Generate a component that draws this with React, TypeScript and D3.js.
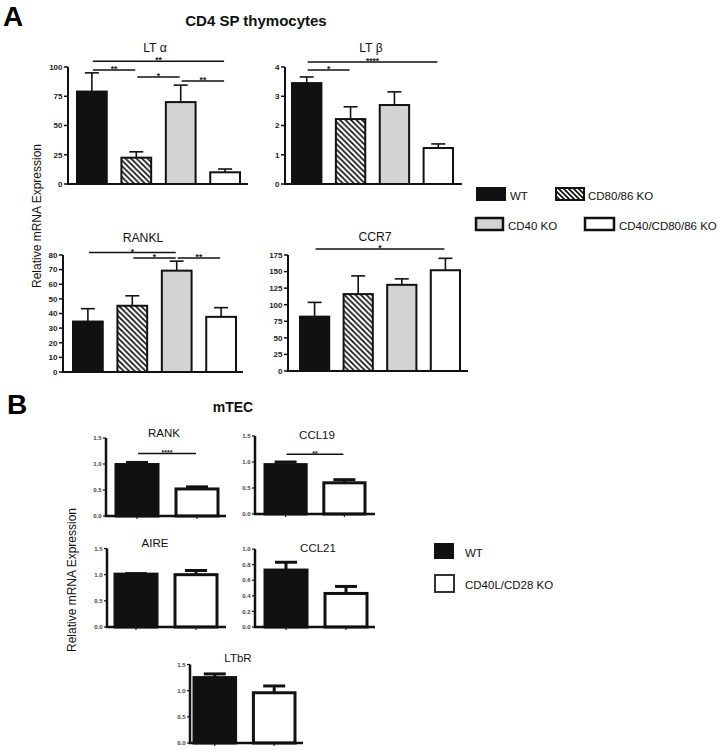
import React from "react";
import * as d3 from "d3";

// ---------- data ----------
const groupsA = ["WT", "CD80/86 KO", "CD40 KO", "CD40/CD80/86 KO"];
const groupsB = ["WT", "CD40L/CD28 KO"];

const ltaMean = [79, 22.5, 70, 10];
const ltaSem = [16, 5, 14.5, 2.8];
const ltbMean = [3.45, 2.22, 2.7, 1.23];
const ltbSem = [0.21, 0.42, 0.45, 0.14];
const ranklMean = [34.5, 45.3, 69.3, 37.7];
const ranklSem = [8.8, 6.8, 6.5, 6.3];
const ccr7Mean = [82, 116, 130, 152];
const ccr7Sem = [21.5, 27.5, 9, 18];

const rankMean = [0.99, 0.52];
const rankSem = [0.04, 0.04];
const ccl19Mean = [0.95, 0.6];
const ccl19Sem = [0.05, 0.06];
const aireMean = [1.01, 1.0];
const aireSem = [0.01, 0.08];
const ccl21Mean = [0.73, 0.43];
const ccl21Sem = [0.1, 0.09];
const ltbrMean = [1.25, 0.96];
const ltbrSem = [0.07, 0.13];

const ticksLta = [0, 25, 50, 75, 100];
const ticksLtb = [0, 1, 2, 3, 4];
const ticksRankl = [0, 10, 20, 30, 40, 50, 60, 70, 80];
const ticksCcr7 = [0, 25, 50, 75, 100, 125, 150, 175];
const ticksB15 = [0, 0.5, 1.0, 1.5];
const ticksB10 = [0, 0.2, 0.4, 0.6, 0.8, 1.0];

type Sig = { a: number; b: number; v: number; label: string };
const ltaSig: Sig[] = [
  { a: 0, b: 3, v: 105, label: "**" },
  { a: 0, b: 1, v: 97.4, label: "**" },
  { a: 1, b: 2, v: 91.5, label: "*" },
  { a: 2, b: 3, v: 88, label: "**" },
];
const ltbSig: Sig[] = [
  { a: 0, b: 3, v: 4.17, label: "****" },
  { a: 0, b: 1, v: 3.9, label: "*" },
];
const ranklSig: Sig[] = [
  { a: 0, b: 2, v: 81.7, label: "*" },
  { a: 1, b: 2, v: 78, label: "*" },
  { a: 2, b: 3, v: 78, label: "**" },
];
const ccr7Sig: Sig[] = [{ a: 0, b: 3, v: 184, label: "*" }];
const rankSig: Sig[] = [{ a: 0, b: 1, v: 1.2, label: "****" }];
const ccl19Sig: Sig[] = [{ a: 0, b: 1, v: 1.15, label: "**" }];

const FONT = "'Liberation Sans', Arial, Helvetica, sans-serif";
const fillsA = ["#111111", "url(#hatch)", "#d3d3d3", "#ffffff"];
const fillsB = ["#111111", "#ffffff"];

type PanelProps = {
  title: string;
  titleX: number;
  titleY: number;
  groups: string[];
  means: number[];
  sems: number[];
  ticks: number[];
  fmt: (v: number) => string;
  yMax: number;
  axisX: number;
  axisEnd: number;
  y0: number;
  yTop: number;
  barL: number;
  barR: number;
  fills: string[];
  heavy: boolean;
  sig?: Sig[];
};

function Panel(p: PanelProps) {
  const y = d3.scaleLinear().domain([0, p.yMax]).range([p.y0, p.yTop]);
  const n = p.groups.length;
  const x = d3
    .scaleBand<string>()
    .domain(p.groups)
    .range([p.barL, p.barR])
    .paddingInner(n === 4 ? 0.33 : 0.3)
    .paddingOuter(0);
  const bw = x.bandwidth();
  const axisW = p.heavy ? 2.5 : 2;
  const barW = p.heavy ? 3 : 2;
  const errW = p.heavy ? 3 : 1.6;
  const capW = p.heavy ? 22 : 14;
  const tickLen = p.heavy ? 3 : 4;
  const tickFont = p.heavy ? 6 : 8;
  const starFont = p.heavy ? 7 : 8.5;
  return (
    <g fontFamily={FONT}>
      <text x={p.titleX} y={p.titleY} textAnchor="middle" fontSize={p.heavy ? 11.5 : 12.2} fill="#111">
        {p.title}
      </text>
      {p.groups.map((g, i) => {
        const cx = (x(g) as number) + bw / 2;
        const top = y(p.means[i]);
        const et = y(p.means[i] + p.sems[i]);
        return (
          <g key={g}>
            <line x1={cx} x2={cx} y1={top} y2={et} stroke="#111" strokeWidth={errW} />
            <line x1={cx - capW / 2} x2={cx + capW / 2} y1={et} y2={et} stroke="#111" strokeWidth={errW} />
            <rect
              x={x(g) as number}
              y={top}
              width={bw}
              height={p.y0 - top}
              fill={p.fills[i]}
              stroke="#111"
              strokeWidth={barW}
            />
            {p.heavy && (
              <line x1={cx} x2={cx} y1={p.y0} y2={p.y0 + 3} stroke="#222" strokeWidth={1.2} />
            )}
          </g>
        );
      })}
      <line x1={p.axisX} x2={p.axisX} y1={p.y0} y2={p.yTop} stroke="#111" strokeWidth={axisW} />
      <line x1={p.axisX - axisW / 2} x2={p.axisEnd} y1={p.y0} y2={p.y0} stroke="#111" strokeWidth={axisW} />
      {p.ticks.map((t) => (
        <g key={t}>
          <line x1={p.axisX - tickLen} x2={p.axisX} y1={y(t)} y2={y(t)} stroke="#111" strokeWidth={p.heavy ? 1.2 : 1.5} />
          <text
            x={p.axisX - tickLen - 1.5}
            y={y(t)}
            dy="0.35em"
            textAnchor="end"
            fontSize={tickFont}
            fontWeight="bold"
            fill={p.heavy ? "#444" : "#222"}
          >
            {p.fmt(t)}
          </text>
        </g>
      ))}
      {(p.sig || []).map((s, k) => {
        const xa = (x(p.groups[s.a]) as number) + bw / 2 + 1;
        const xb = (x(p.groups[s.b]) as number) + bw / 2 - 1;
        const ly = y(s.v);
        return (
          <g key={k}>
            <line x1={xa} x2={xb} y1={ly} y2={ly} stroke="#111" strokeWidth={1.5} />
            <text
              x={(xa + xb) / 2}
              y={ly + (p.heavy ? 1.5 : 2)}
              textAnchor="middle"
              fontSize={starFont}
              fontWeight="bold"
              fill="#222"
            >
              {s.label}
            </text>
          </g>
        );
      })}
    </g>
  );
}

const fmtInt = (v: number) => d3.format("d")(v);
const fmt1 = (v: number) => d3.format(".1f")(v);

export default function App() {
  return (
    <svg
      width={719}
      height={750}
      viewBox="0 0 719 750"
      style={{ position: "absolute", left: 0, top: 0, background: "#fff", display: "block" }}
    >
      <defs>
        <pattern id="hatch" patternUnits="userSpaceOnUse" width={5.5} height={5.5}>
          <rect width={5.5} height={5.5} fill="#fff" />
          <path d="M-1,-1 L6.5,6.5 M-1,4.5 L1,6.5 M4.5,-1 L6.5,1" stroke="#111" strokeWidth={1.7} />
        </pattern>
        <pattern id="hatchL" patternUnits="userSpaceOnUse" width={5} height={5}>
          <rect width={5} height={5} fill="#fff" />
          <path d="M-1,-1 L6,6 M-1,4 L1,6 M4,-1 L6,1" stroke="#111" strokeWidth={1.8} />
        </pattern>
      </defs>
      <rect x={0} y={0} width={719} height={750} fill="#fff" />

      {/* Panel letters & headings */}
      <text x={3} y={26} fontFamily={FONT} fontWeight="bold" fontSize={28} fill="#000">A</text>
      <text x={256} y={26} fontFamily={FONT} fontWeight="bold" fontSize={15} textAnchor="middle" fill="#111">
        CD4 SP thymocytes
      </text>
      <text x={7} y={414} fontFamily={FONT} fontWeight="bold" fontSize={28} fill="#000">B</text>
      <text x={233} y={412} fontFamily={FONT} fontWeight="bold" fontSize={14} textAnchor="middle" fill="#111">
        mTEC
      </text>

      {/* Y labels */}
      <text
        transform="translate(41,216) rotate(-90)"
        textAnchor="middle"
        fontFamily={FONT}
        fontSize={12}
        fill="#111"
      >
        Relative mRNA Expression
      </text>
      <text
        transform="translate(76,580) rotate(-90)"
        textAnchor="middle"
        fontFamily={FONT}
        fontSize={12}
        fill="#111"
      >
        Relative mRNA Expression
      </text>

      {/* Panel A */}
      <Panel title="LT α" titleX={155} titleY={52} groups={groupsA} means={ltaMean} sems={ltaSem}
        ticks={ticksLta} fmt={fmtInt} yMax={100} axisX={68} axisEnd={248} y0={184} yTop={67}
        barL={77} barR={240} fills={fillsA} heavy={false} sig={ltaSig} />
      <Panel title="LT β" titleX={371} titleY={52} groups={groupsA} means={ltbMean} sems={ltbSem}
        ticks={ticksLtb} fmt={fmtInt} yMax={4} axisX={285} axisEnd={462} y0={184} yTop={67}
        barL={292} barR={453} fills={fillsA} heavy={false} sig={ltbSig} />
      <Panel title="RANKL" titleX={143} titleY={242} groups={groupsA} means={ranklMean} sems={ranklSem}
        ticks={ticksRankl} fmt={fmtInt} yMax={80} axisX={63} axisEnd={243} y0={372} yTop={255}
        barL={73} barR={236} fills={fillsA} heavy={false} sig={ranklSig} />
      <Panel title="CCR7" titleX={375} titleY={241} groups={groupsA} means={ccr7Mean} sems={ccr7Sem}
        ticks={ticksCcr7} fmt={fmtInt} yMax={175} axisX={288} axisEnd={468} y0={371} yTop={255}
        barL={300} barR={460} fills={fillsA} heavy={false} sig={ccr7Sig} />

      {/* Legend A */}
      <g fontFamily={FONT} fontSize={11.5} fill="#111">
        <rect x={476} y={187} width={30} height={14} fill="#111" />
        <text x={510} y={200}>{groupsA[0]}</text>
        <rect x={556} y={188} width={28} height={12} fill="url(#hatchL)" stroke="#111" strokeWidth={2} />
        <text x={588} y={200}>{groupsA[1]}</text>
        <rect x={476} y={218} width={27} height={12} fill="#d3d3d3" stroke="#111" strokeWidth={2.5} />
        <text x={508} y={230}>{groupsA[2]}</text>
        <rect x={585} y={218} width={29} height={12} fill="#fff" stroke="#111" strokeWidth={2.5} />
        <text x={619} y={230}>{groupsA[3]}</text>
      </g>

      {/* Panel B */}
      <Panel title="RANK" titleX={164} titleY={437} groups={groupsB} means={rankMean} sems={rankSem}
        ticks={ticksB15} fmt={fmt1} yMax={1.5} axisX={106} axisEnd={226} y0={516} yTop={438}
        barL={116} barR={218} fills={fillsB} heavy={true} sig={rankSig} />
      <Panel title="CCL19" titleX={317} titleY={439} groups={groupsB} means={ccl19Mean} sems={ccl19Sem}
        ticks={ticksB15} fmt={fmt1} yMax={1.5} axisX={255} axisEnd={375} y0={514} yTop={436}
        barL={265} barR={365} fills={fillsB} heavy={true} sig={ccl19Sig} />
      <Panel title="AIRE" titleX={155} titleY={547} groups={groupsB} means={aireMean} sems={aireSem}
        ticks={ticksB15} fmt={fmt1} yMax={1.5} axisX={107} axisEnd={226} y0={627} yTop={548.5}
        barL={115} barR={217} fills={fillsB} heavy={true} />
      <Panel title="CCL21" titleX={318} titleY={552} groups={groupsB} means={ccl21Mean} sems={ccl21Sem}
        ticks={ticksB10} fmt={fmt1} yMax={1.0} axisX={255} axisEnd={375} y0={627} yTop={549}
        barL={265} barR={367} fills={fillsB} heavy={true} />
      <Panel title="LTbR" titleX={238} titleY={662} groups={groupsB} means={ltbrMean} sems={ltbrSem}
        ticks={ticksB15} fmt={fmt1} yMax={1.5} axisX={190} axisEnd={303} y0={743} yTop={664.5}
        barL={194} barR={295} fills={fillsB} heavy={true} />

      {/* Legend B */}
      <g fontFamily={FONT} fontSize={11.5} fill="#111">
        <rect x={434} y={543} width={20} height={16} fill="#111" />
        <text x={465} y={557}>{groupsB[0]}</text>
        <rect x={435} y={575} width={19} height={17} fill="#fff" stroke="#333" strokeWidth={2} />
        <text x={465} y={589}>{groupsB[1]}</text>
      </g>
    </svg>
  );
}
